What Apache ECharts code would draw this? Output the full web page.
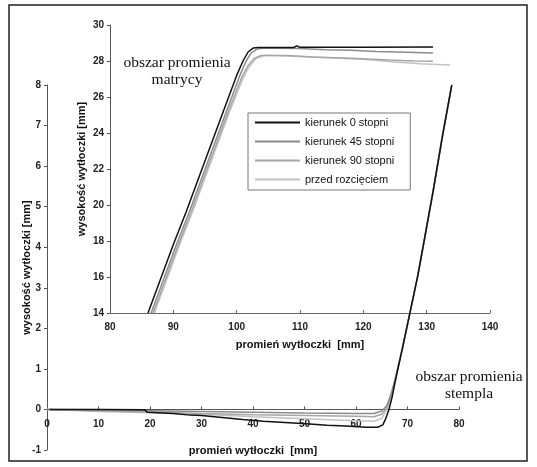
<!DOCTYPE html>
<html>
<head>
	<meta charset="utf-8">
	<title>wysokość wytłoczki</title>
	<script type="text/javascript" src="https://cdn.jsdelivr.net/npm/echarts@6/dist/echarts.min.js"></script>
    <style type="text/css">
    html,body{
        margin: 0;
        height: 100%;
        background: #fff;
    }
        #main{
            width: 537px;
            height: 467px;
        }
    </style>
</head>
<body>
    <div id="main"></div>

	<script type="text/javascript">
// nazwy serii
var names = ['kierunek 0 stopni', 'kierunek 45 stopni', 'kierunek 90 stopni', 'przed rozcięciem'];

// obszar promienia matrycy (wykres wewnetrzny, x 80-140)
var matryca0 = [[86.0,14.0],[88.0,15.9],[90.0,17.8],[92.0,19.6],[94.0,21.5],[96.0,23.4],[98.0,25.3],[100.0,27.2],[101.0,28.0],[101.8,28.5],[102.6,28.72],[103.5,28.75],[109.0,28.75],[109.5,28.84],[110.0,28.76],[120.0,28.76],[131.0,28.78]];
var matryca45 = [[86.5,14.0],[88.5,15.9],[90.5,17.8],[92.5,19.6],[94.5,21.5],[96.5,23.4],[98.5,25.3],[100.5,27.2],[101.5,28.0],[102.3,28.45],[103.2,28.66],[104.5,28.72],[110.0,28.7],[114.0,28.63],[118.0,28.6],[122.0,28.53],[127.0,28.48],[131.0,28.44]];
var matryca90 = [[86.8,14.0],[88.8,15.9],[90.8,17.8],[92.8,19.6],[94.8,21.5],[96.8,23.4],[98.8,25.3],[100.8,27.1],[101.8,27.75],[102.8,28.15],[103.8,28.3],[108.0,28.3],[112.0,28.22],[118.0,28.15],[124.0,28.05],[128.0,28.0],[131.0,27.98]];
var matrycaPrzed = [[87.0,14.0],[89.0,15.9],[91.0,17.8],[93.0,19.6],[95.0,21.5],[97.0,23.4],[99.0,25.3],[101.0,27.05],[102.0,27.7],[103.1,28.15],[104.5,28.32],[110.0,28.25],[116.0,28.15],[120.0,28.1],[125.0,27.95],[129.0,27.85],[133.7,27.78]];

// obszar promienia stempla (wykres glowny, x 0-80)
var stempel0 = [[0.5,0],[10,0],[19,-0.01],[19.5,-0.07],[24.5,-0.1],[27.8,-0.14],[30,-0.15],[34,-0.2],[38,-0.25],[42,-0.29],[47,-0.33],[51,-0.36],[54.4,-0.39],[58,-0.41],[62,-0.44],[64.2,-0.44],[65.2,-0.38],[65.8,-0.22],[66.4,0.0],[67.0,0.3],[67.8,0.8],[69.0,1.5],[70.5,2.4],[72.0,3.3],[73.5,4.35],[75.0,5.4],[76.8,6.75],[78.6,8.0]];
var stempel45 = [[0,0],[10,-0.01],[20,-0.03],[30,-0.05],[40,-0.07],[50,-0.09],[60,-0.1],[63.5,-0.1],[65.0,-0.04],[66.0,0.1],[67.0,0.45],[67.9,0.9],[69.1,1.55],[70.6,2.45],[72.1,3.35],[73.6,4.4],[75.1,5.45],[76.9,6.8],[78.6,8.0]];
var stempel90 = [[0,0],[10,-0.03],[20,-0.06],[30,-0.1],[40,-0.13],[50,-0.15],[60,-0.17],[63.5,-0.18],[65.0,-0.12],[66.0,0.05],[66.9,0.4],[67.8,0.85],[69.0,1.5],[70.5,2.4],[72.0,3.3],[73.5,4.35],[75.0,5.4],[76.8,6.75],[78.5,7.95]];
var stempelPrzed = [[0,0],[10,-0.05],[20,-0.08],[30,-0.12],[40,-0.18],[50,-0.23],[60,-0.28],[63.5,-0.29],[65.0,-0.22],[66.0,0.0],[66.9,0.38],[67.7,0.8],[68.9,1.45],[70.4,2.35],[71.9,3.25],[73.4,4.3],[74.9,5.35],[76.7,6.7],[78.5,7.95]];

var kolory = ['#111111', '#8a8a8a', '#a6a6a6', '#c2c2c2'];
var matryca = [matryca0, matryca45, matryca90, matrycaPrzed];
var stempel = [stempel0, stempel45, stempel90, stempelPrzed];

var myChart = echarts.init(document.getElementById('main'));

var labelStyle = { color: '#222', fontSize: 10, fontFamily: 'Liberation Sans', fontWeight: 'bold' };
var nameStyle = { color: '#111', fontSize: 11, fontFamily: 'Liberation Sans', fontWeight: 'bold' };

// wysokosc glownego wykresu i przesuniecie osi x na poziom 0 (skala -1..8)
var mainHeight = 365;
var zeroOffset = -mainHeight / 9;

// szare najpierw, czarna na wierzchu
var series = [];
for (var i = 3; i >= 0; i--) {
    series.push({
        name: names[i], type: 'line', xAxisIndex: 0, yAxisIndex: 0,
        data: stempel[i], symbol: 'none', z: 10 - i,
        lineStyle: { color: kolory[i], width: 1.5 }, itemStyle: { color: kolory[i] }
    });
    series.push({
        name: names[i], type: 'line', xAxisIndex: 1, yAxisIndex: 1,
        data: matryca[i], symbol: 'none', z: 10 - i,
        lineStyle: { color: kolory[i], width: 1.5 }, itemStyle: { color: kolory[i] }
    });
}

myChart.setOption({
    animation: false,
    backgroundColor: '#fff',
    grid: [
        { left: 47, top: 85, width: 412, height: mainHeight, containLabel: false, outerBoundsMode: 'none' },
        { left: 110, top: 25, width: 380, height: 288, containLabel: false, outerBoundsMode: 'none' }
    ],
    xAxis: [
        {
            type: 'value', gridIndex: 0, min: 0, max: 80, interval: 10,
            offset: zeroOffset,
            axisLine: { onZero: false, lineStyle: { color: '#555' } },
            axisTick: { inside: true, length: 3 },
            axisLabel: Object.assign({ margin: 10 }, labelStyle),
            splitLine: { show: false },
            name: 'promień wytłoczki  [mm]', nameLocation: 'middle', nameGap: 36, nameMoveOverlap: false, nameTextStyle: nameStyle
        },
        {
            type: 'value', gridIndex: 1, min: 80, max: 140, interval: 10,
            axisLine: { lineStyle: { color: '#666' } },
            axisTick: { inside: true, length: 3 },
            axisLabel: Object.assign({ margin: 9 }, labelStyle),
            splitLine: { show: false },
            name: 'promień wytłoczki  [mm]', nameLocation: 'middle', nameGap: 26, nameMoveOverlap: false, nameTextStyle: nameStyle
        }
    ],
    yAxis: [
        {
            type: 'value', gridIndex: 0, min: -1, max: 8, interval: 1,
            axisLine: { show: true, onZero: false, lineStyle: { color: '#555' } },
            axisTick: { show: true, length: 3 },
            axisLabel: Object.assign({ margin: 6 }, labelStyle),
            splitLine: { show: false },
            name: 'wysokość wytłoczki [mm]', nameLocation: 'middle', nameGap: 15, nameMoveOverlap: false, nameTextStyle: nameStyle
        },
        {
            type: 'value', gridIndex: 1, min: 14, max: 30, interval: 2,
            axisLine: { show: true, onZero: false, lineStyle: { color: '#555' } },
            axisTick: { show: true, length: 3 },
            axisLabel: Object.assign({ margin: 6 }, labelStyle),
            splitLine: { show: false },
            name: 'wysokość wytłoczki [mm]', nameLocation: 'middle', nameGap: 23, nameMoveOverlap: false, nameTextStyle: nameStyle
        }
    ],
    legend: {
        data: names,
        orient: 'vertical',
        left: 248, top: 113,
        icon: 'rect',
        itemWidth: 45, itemHeight: 2, itemGap: 8,
        padding: [4, 16, 5, 7],
        borderColor: '#777', borderWidth: 1,
        backgroundColor: '#fff',
        textStyle: { color: '#111', fontSize: 11, fontFamily: 'Liberation Sans' }
    },
    graphic: [
        {
            type: 'rect', silent: true,
            shape: { x: 9, y: 5, width: 518, height: 456 },
            style: { fill: 'none', stroke: '#222', lineWidth: 1.5 }
        },
        {
            type: 'text', x: 177, y: 71, z: 100,
            style: { text: 'obszar promienia\nmatrycy', align: 'center', verticalAlign: 'middle', fontSize: 15.5, lineHeight: 17, fontFamily: 'Liberation Serif', fill: '#111' }
        },
        {
            type: 'text', x: 469, y: 385, z: 100,
            style: { text: 'obszar promienia\nstempla', align: 'center', verticalAlign: 'middle', fontSize: 15.5, lineHeight: 17, fontFamily: 'Liberation Serif', fill: '#111' }
        }
    ],
    series: series
});
	</script>

</body>
</html>
